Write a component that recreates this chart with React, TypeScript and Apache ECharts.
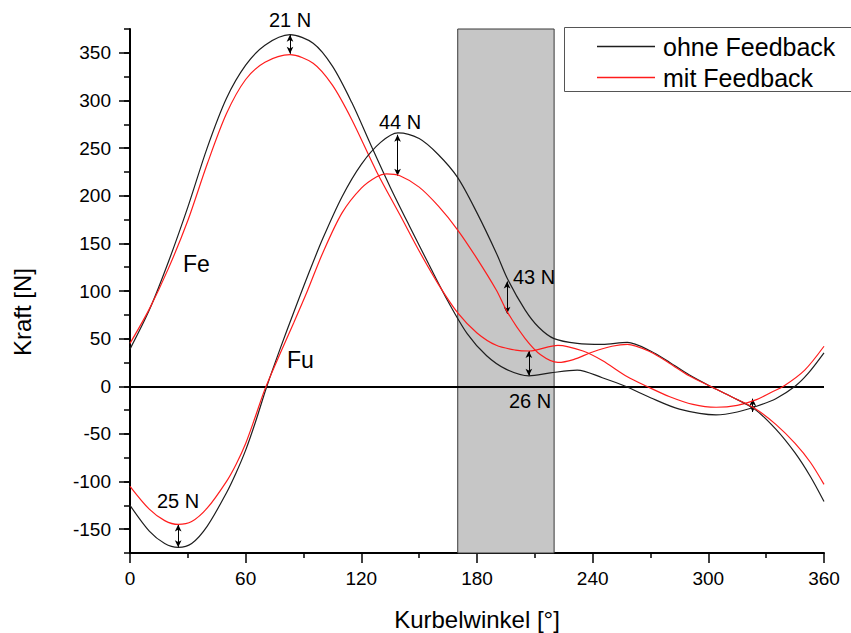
import React, { useEffect, useRef } from "react";
import * as echarts from "echarts";

// ---- data ----
const feOhneAngles = [0, 10, 20, 30, 40, 50, 60, 70, 83, 95, 105, 115, 125, 135, 145, 155, 165, 175, 185, 195, 207, 218, 232, 245, 257, 270, 285, 304, 315, 325, 335, 345, 352, 360];
const feOhneValues = [39, 80, 131, 188, 250, 302, 337, 358, 369, 360, 336, 298, 253, 209, 168, 128, 89, 55, 32, 18, 11, 14, 17, 9, 0, -12, -24, -30, -27, -21, -13, 0, 14, 35];

const feMitAngles = [0, 10, 20, 30, 40, 50, 60, 70, 83, 95, 105, 115, 128, 140, 150, 160, 170, 180, 190, 200, 207, 222, 235, 245, 258, 268, 280, 292, 304, 315, 325, 333, 339, 350, 360];
const feMitValues = [45, 81, 124, 174, 233, 286, 322, 340, 348, 339, 316, 280, 225, 180, 142, 107, 77, 56, 43, 38, 37, 43, 37, 27, 10, 0, -11, -19, -22, -20, -14, -6, 0, 17, 42];

const fuOhneAngles = [0, 10, 18, 25, 32, 40, 50, 55, 60, 65, 71, 78, 85, 92, 100, 110, 120, 130, 139, 150, 160, 170, 180, 190, 196, 205, 212, 220, 232, 245, 258, 270, 280, 290, 301, 312, 324, 335, 345, 353, 360];
const fuOhneValues = [-125, -152, -165, -169, -165, -147, -112, -91, -67, -38, 0, 40, 78, 115, 155, 199, 233, 256, 266, 260, 243, 219, 182, 140, 112, 80, 62, 50, 45, 44, 46, 37, 25, 12, 0, -11, -24, -45, -70, -95, -121];

const fuMitAngles = [0, 10, 18, 25, 32, 40, 50, 55, 60, 65, 70, 78, 85, 92, 100, 110, 120, 128, 133, 140, 150, 160, 170, 180, 190, 196, 205, 213, 222, 230, 240, 250, 258, 270, 280, 290, 301, 312, 324, 335, 345, 353, 360];
const fuMitValues = [-105, -129, -141, -145, -142, -128, -100, -82, -60, -32, -3, 35, 67, 100, 140, 182, 208, 220, 223, 221, 209, 189, 164, 134, 101, 77, 50, 33, 25, 28, 36, 42, 44, 36, 24, 11, 0, -11, -23, -40, -60, -80, -103];

const seriesNames = ["ohne Feedback", "mit Feedback"];
const xTicks = [0, 60, 120, 180, 240, 300, 360];
const yTickLabels = [-150, -100, -50, 0, 50, 100, 150, 200, 250, 300, 350];
const yMin = -175;
const yMax = 375;
const bandRange = [170, 220];

// double-headed arrows: [angle, from, to]
const arrowAngles = [83, 138.8, 195.6, 206.9, 25, 323];
const arrowFrom = [369, 264, 110, 37, -145, -13];
const arrowTo = [349, 221, 76, 11, -169, -27];
const arrowLabels = ["21 N", "44 N", "43 N", "26 N", "25 N", ""];
const curveLabels = ["Fe", "Fu"];

const FONT = "'Liberation Sans', Arial, Helvetica, sans-serif";
const BLACK = "#1e1e1e";
const RED = "#ff1c1c";

function zip(xs: number[], ys: number[]) {
  return xs.map((x, i) => [x, ys[i]]);
}

export default function App() {
  const ref = useRef<HTMLDivElement>(null);

  useEffect(() => {
    document.body.style.margin = "0";
    if (!ref.current) return;
    const chart = echarts.init(ref.current, undefined, { renderer: "svg" });

    const lineSeries = (name: string, data: number[][], color: string) => ({
      type: "line",
      name,
      data,
      smooth: 0.3,
      symbol: "none",
      z: 5,
      silent: true,
      lineStyle: { color, width: 1.2 },
      itemStyle: { color },
      emphasis: { disabled: true },
    });

    const arrowData = arrowAngles.map((a, i) => [
      { coord: [a, arrowFrom[i]] },
      { coord: [a, arrowTo[i]] },
    ]);

    const annotationText = (
      text: string,
      x: number,
      y: number,
      align: string,
      size: number,
      rotation = 0
    ) => ({
      type: "text",
      x,
      y,
      z: 20,
      rotation,
      style: {
        text,
        fill: "#000",
        font: `${size}px ${FONT}`,
        textAlign: align,
        textVerticalAlign: "middle",
      },
    });

    const labelPos = [
      [290, 20, "center"],
      [400, 122, "center"],
      [513, 277, "left"],
      [530, 401, "center"],
      [178, 501, "center"],
    ];

    const option: any = {
      animation: false,
      grid: { left: 130, right: 27, top: 29, bottom: 80, outerBoundsMode: "none" },
      legend: {
        data: seriesNames.map((n) => ({ name: n, icon: "rect" })),
        orient: "vertical",
        left: 597,
        top: 34,
        padding: 0,
        itemGap: 6,
        itemWidth: 58,
        itemHeight: 1.3,
        selectedMode: false,
        textStyle: {
          fontFamily: FONT,
          fontSize: 25,
          color: "#000",
          padding: [0, 0, 0, 3],
        },
        z: 10,
      },
      xAxis: {
        type: "value",
        min: 0,
        max: 360,
        interval: 60,
        axisLine: { onZero: false, lineStyle: { color: "#000", width: 2 } },
        axisTick: { length: 10, lineStyle: { color: "#000", width: 1.5 } },
        minorTick: { show: true, splitNumber: 2, length: 5, lineStyle: { color: "#000", width: 1.5 } },
        axisLabel: {
          customValues: xTicks,
          fontFamily: FONT,
          fontSize: 19,
          color: "#000",
          margin: 16,
        },
        splitLine: { show: false },
        name: "Kurbelwinkel [°]",
        nameLocation: "middle",
        nameGap: 54,
        nameTextStyle: { fontFamily: FONT, fontSize: 24, color: "#000" },
      },
      yAxis: [
        {
          type: "value",
          min: yMin,
          max: yMax,
          interval: 25,
          axisLine: { show: true, lineStyle: { color: "#000", width: 2 } },
          axisTick: { show: true, length: 6, lineStyle: { color: "#000", width: 1.5 } },
          axisLabel: {
            customValues: yTickLabels,
            fontFamily: FONT,
            fontSize: 19,
            color: "#000",
            margin: 19,
          },
          splitLine: { show: false },
        },
        {
          type: "value",
          min: yMin,
          max: yMax,
          position: "left",
          axisLine: { show: false },
          axisTick: {
            show: true,
            length: 11,
            customValues: yTickLabels,
            lineStyle: { color: "#000", width: 1.5 },
          },
          axisLabel: { show: false },
          splitLine: { show: false },
        },
      ],
      series: [
        {
          type: "line",
          name: "band",
          data: [],
          z: 1,
          silent: true,
          markArea: {
            silent: true,
            itemStyle: { color: "#c6c6c6", borderColor: "#3a3a3a", borderWidth: 1 },
            label: { show: false },
            data: [[{ xAxis: bandRange[0], yAxis: yMin }, { xAxis: bandRange[1], yAxis: yMax }]],
          },
          markLine: {
            silent: true,
            symbol: "none",
            label: { show: false },
            lineStyle: { color: "#000", width: 1.8, type: "solid" },
            data: [{ yAxis: 0 }],
          },
        },
        lineSeries(seriesNames[0], zip(feOhneAngles, feOhneValues), BLACK),
        lineSeries(seriesNames[1], zip(feMitAngles, feMitValues), RED),
        lineSeries(seriesNames[0], zip(fuOhneAngles, fuOhneValues), BLACK),
        lineSeries(seriesNames[1], zip(fuMitAngles, fuMitValues), RED),
        {
          type: "line",
          name: "arrows",
          data: [],
          z: 8,
          silent: true,
          markLine: {
            silent: true,
            symbol: ["arrow", "arrow"],
            symbolSize: [5, 7],
            label: { show: false },
            lineStyle: { color: "#000", width: 1, type: "solid" },
            data: arrowData,
          },
        },
      ],
      graphic: [
        {
          type: "rect",
          shape: { x: 564.5, y: 27.5, width: 300, height: 64 },
          style: { fill: "#fff", stroke: "#555", lineWidth: 1 },
          z: 5,
        },
        annotationText("Kraft [N]", 22, 312, "center", 24, Math.PI / 2),
        ...arrowLabels
          .slice(0, labelPos.length)
          .map((t, i) =>
            annotationText(t, labelPos[i][0] as number, labelPos[i][1] as number, labelPos[i][2] as string, 20)
          ),
        annotationText(curveLabels[0], 183, 264, "left", 23),
        annotationText(curveLabels[1], 287, 360, "left", 23),
      ],
    };

    chart.setOption(option);
    return () => chart.dispose();
  }, []);

  return <div ref={ref} style={{ width: 851, height: 633 }} />;
}
